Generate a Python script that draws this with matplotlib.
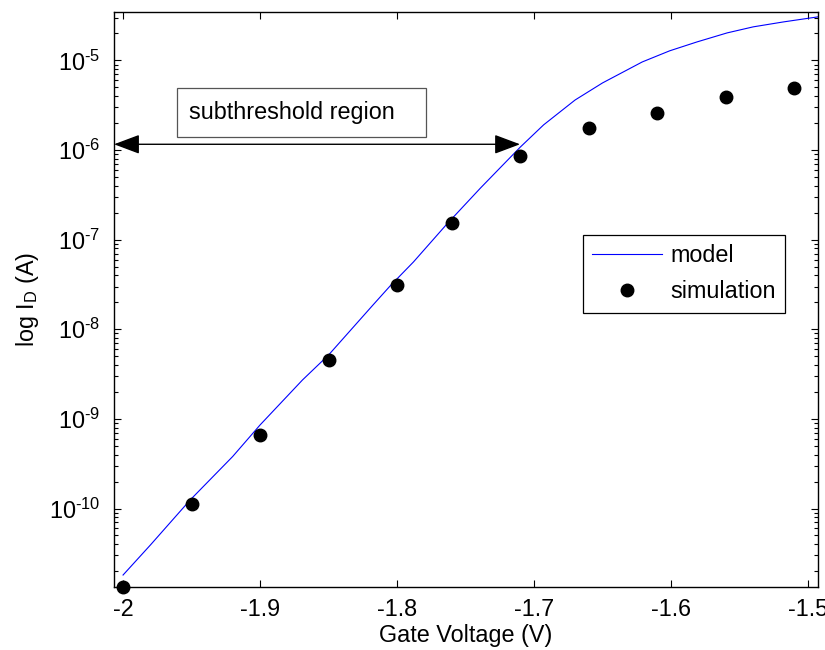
import matplotlib
matplotlib.use("Agg")
import matplotlib.pyplot as plt
from matplotlib.patches import Rectangle
from matplotlib.ticker import LogLocator, NullFormatter, FuncFormatter
import numpy as np

plt.rcParams['font.family'] = 'Liberation Sans'
plt.rcParams['mathtext.fontset'] = 'custom'
plt.rcParams['mathtext.rm'] = 'Liberation Sans'
plt.rcParams['mathtext.it'] = 'Liberation Sans'
plt.rcParams['mathtext.default'] = 'regular'

FS = 16.8

# model curve
model_v = [-2.000, -1.980, -1.951, -1.920, -1.900, -1.869, -1.850,
           -1.8175, -1.805, -1.788, -1.7635, -1.739, -1.710, -1.693, -1.670,
           -1.650, -1.621, -1.601, -1.581, -1.559, -1.540, -1.518, -1.493]
model_id = [1.81e-11, 3.92e-11, 1.245e-10, 3.80e-10, 8.55e-10,
            2.72e-9, 5.16e-9, 1.87e-8, 3.05e-8, 5.64e-8, 1.50e-7, 3.78e-7,
            1.08e-6, 1.91e-6, 3.62e-6, 5.61e-6, 9.62e-6, 1.28e-5, 1.61e-5,
            2.03e-5, 2.37e-5, 2.69e-5, 3.06e-5]

# simulation points
sim_v = [-2.00, -1.95, -1.90, -1.85, -1.80, -1.76, -1.71, -1.66, -1.61, -1.56, -1.51]
sim_id = [1.33e-11, 1.12e-10, 6.6e-10, 4.54e-9, 3.12e-8, 1.54e-7, 8.6e-7,
          1.77e-6, 2.6e-6, 3.92e-6, 4.93e-6]

x_ticks = [-2.0, -1.9, -1.8, -1.7, -1.6, -1.5]
x_ticklabels = ['-2', '-1.9', '-1.8', '-1.7', '-1.6', '-1.5']
x_lim = (-2.0066, -1.4927)
y_lim = (1.33e-11, 3.47e-5)

arrow_y = 1.16e-6
arrow_right = -1.7102


def decade_label(val, pos):
    e = int(np.round(np.log10(val)))
    return '10$^{\\text{%d}}$' % e


fig = plt.figure(figsize=(8.25, 6.5), dpi=100)
ax = fig.add_axes([0.1382, 0.0969, 0.8533, 0.8846])

ax.plot(model_v, model_id, color='#0000ff', linewidth=0.8, label='model')
ax.plot(sim_v, sim_id, linestyle='none', marker='o', markersize=9,
        color='black', label='simulation', clip_on=False, zorder=4)

ax.set_yscale('log')
ax.set_xlim(*x_lim)
ax.set_ylim(*y_lim)
ax.set_xticks(x_ticks)
ax.set_xticklabels(x_ticklabels)
ax.yaxis.set_major_locator(LogLocator(base=10, numticks=20))
ax.yaxis.set_major_formatter(FuncFormatter(decade_label))
ax.yaxis.set_minor_locator(LogLocator(base=10, subs=range(2, 10), numticks=20))
ax.yaxis.set_minor_formatter(NullFormatter())

ax.tick_params(axis='both', which='both', direction='in', top=True, right=True,
               labelsize=FS, width=0.8)
ax.tick_params(axis='both', which='major', length=5)
ax.tick_params(axis='y', which='minor', length=3)
ax.tick_params(axis='x', which='major', pad=8)
ax.tick_params(axis='y', which='major', pad=10)
for s in ax.spines.values():
    s.set_linewidth(1.0)

ax.set_xlabel('Gate Voltage (V)', fontsize=FS, labelpad=2)
ax.set_ylabel('log I$_\\mathregular{D}$ (A)', fontsize=FS, labelpad=6)

# double arrow marking the subthreshold region
ax.annotate('', xy=(x_lim[0], arrow_y), xytext=(arrow_right, arrow_y),
            arrowprops=dict(arrowstyle='<|-|>,head_length=1.6,head_width=0.6',
                            mutation_scale=10, color='black', linewidth=1.0,
                            shrinkA=0, shrinkB=0))

# text box
ax.add_patch(Rectangle((0.0895, 0.782), 0.3537, 0.0852, transform=ax.transAxes,
                       facecolor='white', edgecolor='#555555', linewidth=0.9,
                       zorder=5))
ax.text(0.106, 0.8246, 'subthreshold region', transform=ax.transAxes,
        fontsize=FS, va='center', ha='left', zorder=6)

leg = ax.legend(loc='upper left', bbox_to_anchor=(0.666, 0.612), fontsize=FS,
                frameon=True, fancybox=False, edgecolor='black', framealpha=1,
                handlelength=3.0, handletextpad=0.35, borderpad=0.4,
                labelspacing=0.55, borderaxespad=0)
leg.get_frame().set_linewidth(0.9)

fig.savefig('out.png', dpi=100, facecolor='white')
